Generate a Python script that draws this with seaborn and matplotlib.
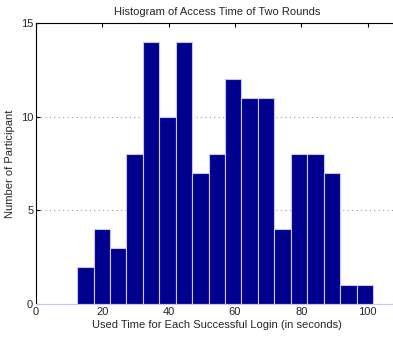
import matplotlib
matplotlib.use("Agg")
import matplotlib.pyplot as plt
import seaborn as sns
import numpy as np
import pandas as pd

# Data (18 bins)
bin_start = 12.4
bin_width = 4.955
counts = [2, 4, 3, 8, 14, 10, 14, 7, 8, 12, 11, 11, 4, 8, 8, 7, 1, 1]
x_ticks = [0, 20, 40, 60, 80, 100]
y_ticks = [0, 5, 10, 15]

bin_end = bin_start + bin_width * len(counts)
centers = bin_start + bin_width * (np.arange(len(counts)) + 0.5)
df = pd.DataFrame({"time": centers, "count": counts})

sns.set_style("white")
plt.rcParams['font.family'] = ['Liberation Sans', 'DejaVu Sans']

fig = plt.figure(figsize=(3.93, 3.41), dpi=100)
ax = fig.add_axes([0.0916, 0.1085, 0.92, 0.824])

sns.histplot(data=df, x="time", weights="count", binwidth=bin_width,
             binrange=(bin_start, bin_end), ax=ax,
             color="#00008F", edgecolor="#c8c8e6", linewidth=0.8, alpha=1.0)

ax.set_xlim(0, 109)
ax.set_ylim(0, 15)
ax.set_xticks(x_ticks)
ax.set_yticks(y_ticks)
ax.set_xticklabels([str(v) for v in x_ticks], fontsize=8)
ax.set_yticklabels([str(v) for v in y_ticks], fontsize=8)
ax.yaxis.grid(True, linestyle=(0, (1, 3)), color="#999999", linewidth=0.8)
ax.xaxis.grid(False)
ax.set_axisbelow(True)

for s in ["left", "top"]:
    ax.spines[s].set_visible(True)
    ax.spines[s].set_color("black")
    ax.spines[s].set_linewidth(0.8)
ax.spines["right"].set_visible(False)
ax.spines["bottom"].set_color("#c8c8e6")
ax.spines["bottom"].set_linewidth(0.8)

ax.tick_params(axis="x", direction="in", length=3, top=True, bottom=False,
               color="black", pad=2)
ax.tick_params(axis="y", direction="in", length=3, left=True, color="black", pad=2)

ax.set_title("Histogram of Access Time of Two Rounds", fontsize=8, pad=6)
ax.set_xlabel("Used Time for Each Successful Login (in seconds)", fontsize=8, labelpad=2)
ax.set_ylabel("Number of Participant", fontsize=8, labelpad=4)

fig.savefig("out.png", dpi=100)
